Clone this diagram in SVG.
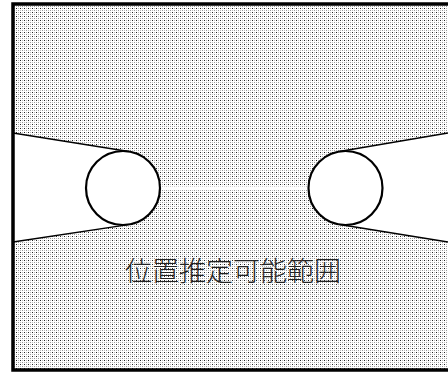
<svg xmlns="http://www.w3.org/2000/svg" width="448" height="376" viewBox="0 0 448 376">
  <defs>
    <pattern id="dots" x="0" y="0" width="4" height="4" patternUnits="userSpaceOnUse">
      <rect width="4" height="4" fill="#ffffff"/>
      <rect x="0" y="0" width="1" height="1" fill="#222"/>
      <rect x="2" y="0" width="1" height="1" fill="#bbb"/>
      <rect x="0" y="2" width="1" height="1" fill="#bbb"/>
      <rect x="2" y="2" width="1" height="1" fill="#999"/>
    </pattern>
  </defs>
  <style>
    .edge { stroke: #000; stroke-width: 1.3; fill: none; }
    .hole { fill: #fff; stroke: #000; stroke-width: 2.2; }
    .label { font-family: "Noto Sans CJK JP", "Noto Sans CJK SC", sans-serif; font-size: 27px; fill: #222; font-weight: 300; }
  </style>
  <rect width="448" height="376" fill="#fff"/>
  <g id="region">
    <rect x="13" y="4" width="450" height="366" fill="url(#dots)" stroke="none"/>
  </g>
  <g id="connectors">
    <polygon points="13,133 128.8,151.5 128.5,224.6 13,242" fill="#fff"/>
    <polygon points="448,133 339.3,151.5 339.6,224.5 448,242" fill="#fff"/>
    <line class="edge" x1="13" y1="133" x2="128.8" y2="151.5"/>
    <line class="edge" x1="13" y1="242" x2="128.5" y2="224.6"/>
    <line class="edge" x1="448" y1="133" x2="339.3" y2="151.5"/>
    <line class="edge" x1="448" y1="242" x2="339.6" y2="224.5"/>
    <line x1="160" y1="188" x2="308" y2="188" stroke="#fff" stroke-width="3"/>
  </g>
  <g id="sensor-left">
    <circle class="hole" cx="123" cy="188" r="37"/>
  </g>
  <g id="sensor-right">
    <circle class="hole" cx="345.5" cy="188" r="37"/>
  </g>
  <g id="border">
    <rect x="13" y="4" width="450" height="366" fill="none" stroke="#000" stroke-width="3.5"/>
  </g>
  <g id="label">
    <text class="label" x="125" y="281" textLength="216">位置推定可能範囲</text>
  </g>
</svg>
